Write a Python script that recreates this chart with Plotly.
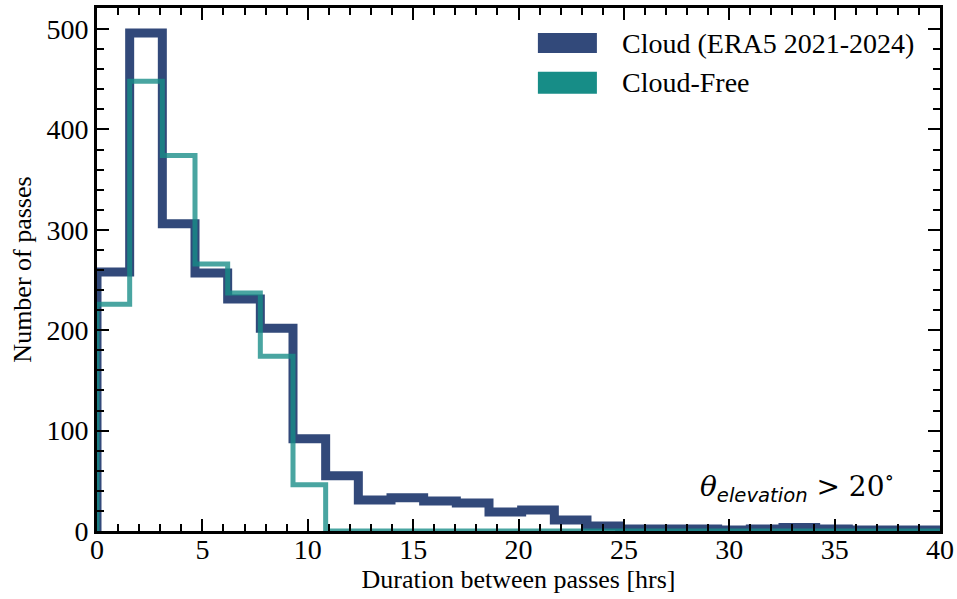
import plotly.graph_objects as go

# Bin edges (hours) of the histogram
bin_edges = [0.0, 1.55, 3.1, 4.65, 6.2, 7.75, 9.3, 10.85, 12.4, 13.95, 15.5, 17.05,
             18.6, 20.15, 21.7, 23.25, 24.8, 26.35, 27.9, 29.45, 31.0, 32.55, 34.1,
             35.65, 37.2, 38.75, 40.3]

# Counts per bin
cloud_counts = [258, 496, 306, 257, 231, 202, 92, 55, 31, 33, 30, 28, 19, 21, 11, 5,
                2, 2, 2, 1, 2, 3.5, 2, 1, 1, 1]
cloudfree_counts = [226, 448, 374, 266, 237, 174, 46, 0, 0, 0, 0, 0, 0, 0, 0, 0,
                    0, 0, 0, 0, 0, 0, 0, 0, 0, 0]

series_names = ["Cloud (ERA5 2021-2024)", "Cloud-Free"]
x_ticks = [0, 5, 10, 15, 20, 25, 30, 35, 40]
y_ticks = [0, 100, 200, 300, 400, 500]

CLOUD_COLOR = "rgb(50,73,122)"
FREE_COLOR = "rgb(23,141,135)"
FONT = "Liberation Serif, Times New Roman, serif"


def step_xy(edges, counts):
    xs = [edges[0]] + list(edges)
    ys = [0] + list(counts) + [0]
    return xs, ys


fig = go.Figure()
cx, cy = step_xy(bin_edges, cloud_counts)
fig.add_trace(go.Scatter(x=cx, y=cy, mode="lines", line_shape="hv",
                         line=dict(color=CLOUD_COLOR, width=9),
                         name=series_names[0], showlegend=False, cliponaxis=True))
fx, fy = step_xy(bin_edges, cloudfree_counts)
fig.add_trace(go.Scatter(x=fx, y=fy, mode="lines", line_shape="hv",
                         line=dict(color=FREE_COLOR, width=5), opacity=0.78,
                         name=series_names[1], showlegend=False, cliponaxis=True))

axis_common = dict(
    showline=True, linewidth=3, linecolor="black", mirror="ticks",
    ticks="inside", ticklen=12, tickwidth=2, tickcolor="black",
    showgrid=False, zeroline=False, automargin=False,
    tickfont=dict(family=FONT, size=28, color="black"),
)

fig.update_xaxes(range=[0, 40], tickvals=x_ticks, ticklabelstandoff=-9,
                 minor=dict(dtick=1, ticks="inside", ticklen=7, tickwidth=1.5, tickcolor="black"),
                 title=dict(text="Duration between passes [hrs]",
                            font=dict(family=FONT, size=26, color="black"), standoff=4),
                 **axis_common)
fig.update_yaxes(range=[0, 521], tickvals=y_ticks,
                 minor=dict(dtick=20, ticks="inside", ticklen=7, tickwidth=1.5, tickcolor="black"),
                 title=dict(text="Number of passes",
                            font=dict(family=FONT, size=26, color="black"), standoff=8),
                 **axis_common)

# Manual legend with rectangular patches
legend_items = [(series_names[0], CLOUD_COLOR, 0.952, 0.914),
                (series_names[1], FREE_COLOR, 0.878, 0.836)]
for name, col, y1, y0 in legend_items:
    fig.add_shape(type="rect", xref="paper", yref="paper", x0=0.523, x1=0.593,
                  y0=y0, y1=y1, fillcolor=col, line=dict(width=0))
    fig.add_annotation(xref="paper", yref="paper", x=0.620, y=(y0 + y1) / 2,
                       xanchor="left", yanchor="middle", text=name, showarrow=False,
                       font=dict(family=FONT, size=28, color="black"))

fig.add_annotation(xref="paper", yref="paper", x=0.948, y=0.085,
                   xanchor="right", yanchor="middle", showarrow=False,
                   text=("<i>θ</i><sub><span style='font-family:DejaVu Sans'><i>elevation</i></span></sub>"
                         " > 20<sup>∘</sup>"),
                   font=dict(family="DejaVu Serif", size=28, color="black"))

fig.update_layout(
    width=957, height=599,
    margin=dict(l=97, r=17, t=8, b=68, autoexpand=False),
    plot_bgcolor="white", paper_bgcolor="white",
    showlegend=False,
    font=dict(family=FONT, color="black"),
)

fig.write_html("out.html")
